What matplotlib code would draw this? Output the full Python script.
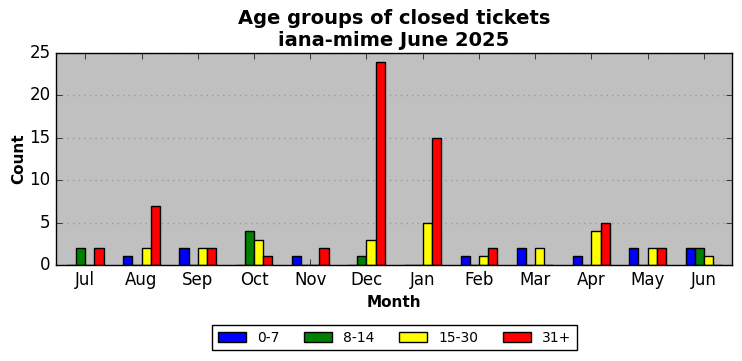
import numpy as np
import matplotlib
matplotlib.use('Agg')
import matplotlib.pyplot as plt

months = ['Jul', 'Aug', 'Sep', 'Oct', 'Nov', 'Dec', 'Jan', 'Feb', 'Mar', 'Apr', 'May', 'Jun']
age_groups = ['0-7', '8-14', '15-30', '31+']
colors = ['blue', 'green', 'yellow', 'red']

days_0_7 = [0, 1, 2, 0, 1, 0, 0, 1, 2, 1, 2, 2]
days_8_14 = [2, 0, 0, 4, 0, 1, 0, 0, 0, 0, 0, 2]
days_15_30 = [0, 2, 2, 3, 0, 3, 5, 1, 2, 4, 2, 1]
days_31_plus = [2, 7, 2, 1, 2, 24, 15, 2, 0, 5, 2, 0]

plt.style.use('classic')
fig = plt.figure(figsize=(7.42, 3.61), dpi=100)
ax = fig.add_axes([0.0755, 0.266, 0.911, 0.587])
ax.set_facecolor('#c0c0c0')

x = np.arange(len(months))
width = 0.163
series = [days_0_7, days_8_14, days_15_30, days_31_plus]
for i, (vals, color, label) in enumerate(zip(series, colors, age_groups)):
    ax.bar(x + (i - 2) * width, vals, width, align='edge', color=color,
           edgecolor='black', linewidth=1, label=label)

ax.set_xlim(-0.52, 11.5)
ax.set_ylim(0, 25)
ax.set_xticks(x)
ax.set_xticklabels(months)
ax.set_yticks(range(0, 26, 5))
ax.tick_params(labelsize=12)
ax.yaxis.grid(True, linestyle=':', color='#999999', linewidth=1)
ax.set_axisbelow(True)

ax.set_title('Age groups of closed tickets\niana-mime June 2025', fontsize=14, fontweight='bold')
ax.set_xlabel('Month', fontsize=11, fontweight='bold')
ax.set_ylabel('Count', fontsize=11, fontweight='bold', labelpad=2)

fig.legend(loc='lower center', bbox_to_anchor=(0.532, 0.01), ncol=4, fontsize=10,
           frameon=True, fancybox=False, handlelength=2.0, columnspacing=1.8,
           borderpad=0.4)

fig.savefig('out.png', dpi=100)
